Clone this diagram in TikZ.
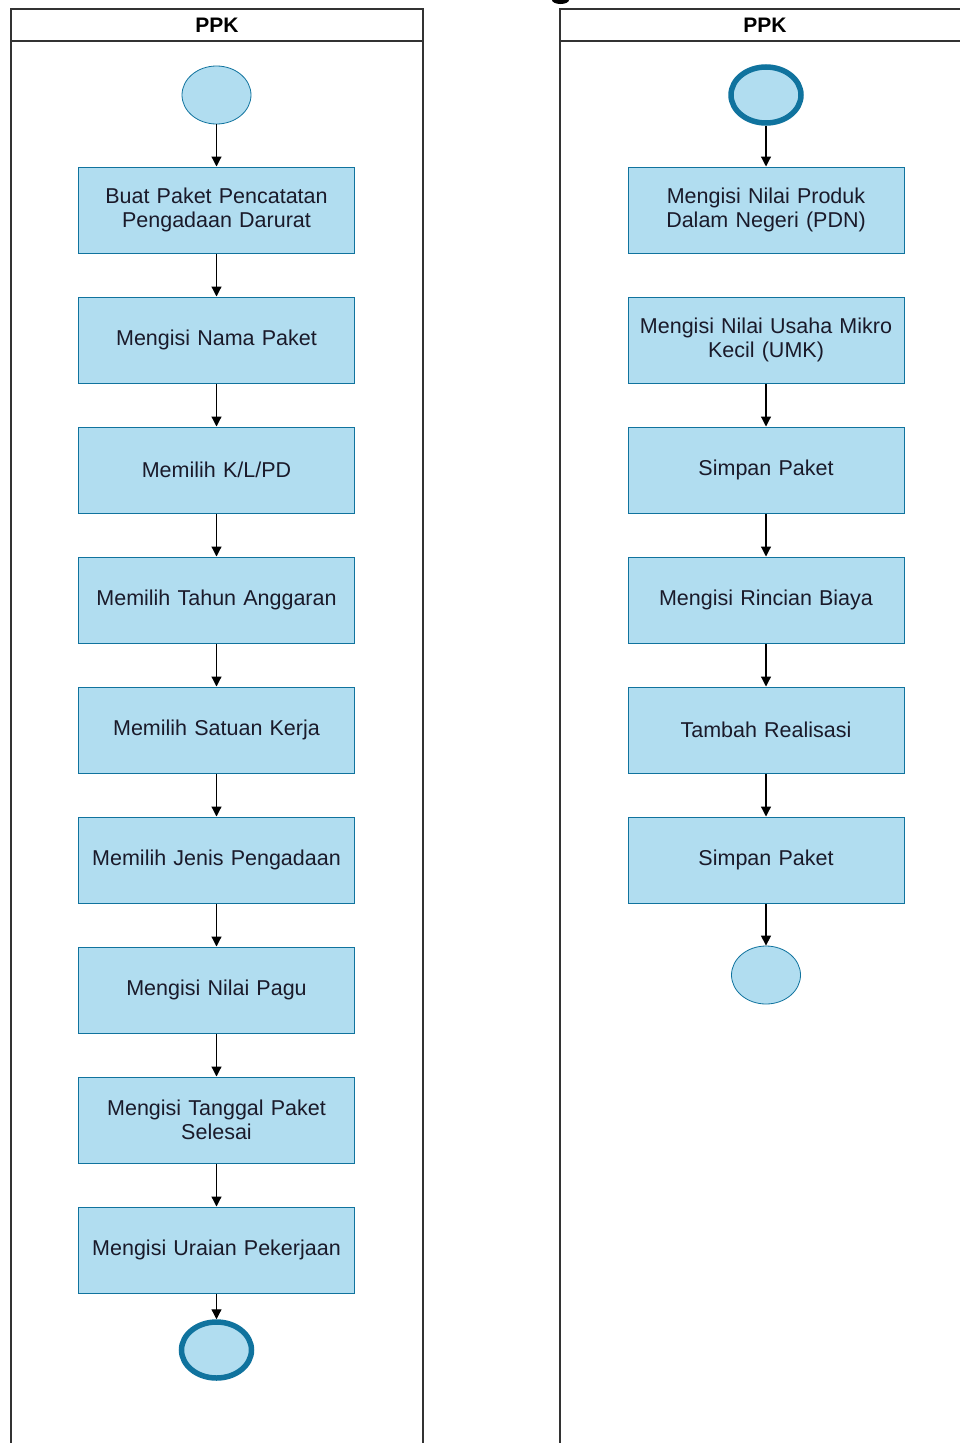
\documentclass[tikz,border=0pt]{standalone}
\usepackage{fontspec}
\setmainfont{Liberation Sans}
\usetikzlibrary{arrows.meta,shapes.geometric}
\definecolor{boxfill}{HTML}{B1DDF0}
\definecolor{boxline}{HTML}{10739E}
\definecolor{laneline}{HTML}{333333}
\definecolor{txt}{HTML}{1A1A2A}
\tikzset{
  stepbox/.style={draw=boxline, fill=boxfill, line width=1pt, minimum width=275pt, minimum height=86pt, align=center, font=\fontsize{21.5}{23.5}\selectfont, text=txt, inner sep=2pt, text width=272pt},
  startc/.style={draw=boxline, fill=boxfill, ellipse, line width=0.8pt, minimum width=69pt, minimum height=58pt},
  endc/.style={draw=boxline, fill=boxfill, ellipse, line width=5.5pt, minimum width=70pt, minimum height=56pt},
  flow/.style={-{Triangle[length=10pt,width=10pt]}, line width=1.2pt, black},
  lane/.style={draw=laneline, line width=1.5pt},
  hdr/.style={font=\fontsize{21}{23}\selectfont\bfseries}
}
\begin{document}
\begin{tikzpicture}[x=1pt,y=1pt]
\useasboundingbox (0,0) rectangle (960,-1443);
\fill[white] (0,0) rectangle (960,-1443);
% clipped remnant of a title glyph above the picture
\fill[black] (552,0) arc[start angle=180, end angle=360, x radius=8.5pt, y radius=4pt] -- cycle;
% lanes
\draw[lane] (11,-1460) -- (11,-9) -- (423,-9) -- (423,-1460);
\draw[lane] (11,-41) -- (423,-41);
\node[hdr] (h1) at (217,-25) {PPK};
\draw[lane] (560,-1460) -- (560,-9) -- (975,-9);
\draw[lane] (560,-41) -- (975,-41);
\node[hdr] (h2) at (765,-25) {PPK};
% left column
\node[startc] (s1) at (216.5,-95) {};
\node[stepbox] (a1) at (216.5,-210) {Buat Paket Pencatatan\\Pengadaan Darurat};
\node[stepbox] (a2) at (216.5,-340) {Mengisi Nama Paket};
\node[stepbox] (a3) at (216.5,-470) {Memilih K/L/PD};
\node[stepbox] (a4) at (216.5,-600) {Memilih Tahun Anggaran};
\node[stepbox] (a5) at (216.5,-730) {Memilih Satuan Kerja};
\node[stepbox] (a6) at (216.5,-860) {Memilih Jenis Pengadaan};
\node[stepbox] (a7) at (216.5,-990) {Mengisi Nilai Pagu};
\node[stepbox] (a8) at (216.5,-1120) {Mengisi Tanggal Paket\\Selesai};
\node[stepbox] (a9) at (216.5,-1250) {Mengisi Uraian Pekerjaan};
\node[endc] (e1) at (216.5,-1350) {};
% right column
\node[endc] (s2) at (766,-95) {};
\node[stepbox] (b1) at (766,-210) {Mengisi Nilai Produk\\Dalam Negeri (PDN)};
\node[stepbox] (b2) at (766,-340) {Mengisi Nilai Usaha Mikro\\Kecil (UMK)};
\node[stepbox] (b3) at (766,-470) {Simpan Paket};
\node[stepbox] (b4) at (766,-600) {Mengisi Rincian Biaya};
\node[stepbox] (b5) at (766,-730) {Tambah Realisasi};
\node[stepbox] (b6) at (766,-860) {Simpan Paket};
\node[startc] (e2) at (766,-975) {};
% connectors
\draw[flow] (s1) -- (a1);
\draw[flow] (a1) -- (a2);
\draw[flow] (a2) -- (a3);
\draw[flow] (a3) -- (a4);
\draw[flow] (a4) -- (a5);
\draw[flow] (a5) -- (a6);
\draw[flow] (a6) -- (a7);
\draw[flow] (a7) -- (a8);
\draw[flow] (a8) -- (a9);
\draw[flow] (a9) -- (e1);
\draw[flow] (s2) -- (b1);
\draw[flow] (b2) -- (b3);
\draw[flow] (b3) -- (b4);
\draw[flow] (b4) -- (b5);
\draw[flow] (b5) -- (b6);
\draw[flow] (b6) -- (e2);
\end{tikzpicture}
\end{document}
